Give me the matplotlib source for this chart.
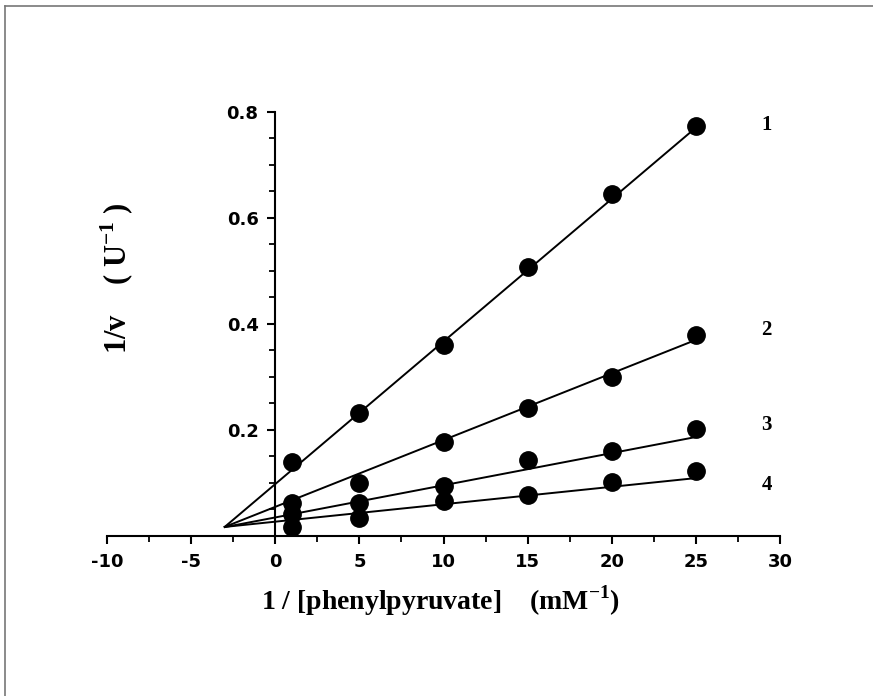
import numpy as np
import matplotlib
matplotlib.use('Agg')
import matplotlib.pyplot as plt
from matplotlib.lines import Line2D
from matplotlib.ticker import MultipleLocator

plt.rcParams['axes.unicode_minus'] = False
plt.rcParams['mathtext.fontset'] = 'custom'
plt.rcParams['mathtext.rm'] = 'Liberation Serif'
plt.rcParams['mathtext.bf'] = 'Liberation Serif:bold'

# data (1/[S] in mM^-1, 1/v in U^-1)
x_vals = [1, 5, 10, 15, 20, 25]
series1 = [0.140, 0.232, 0.360, 0.508, 0.645, 0.774]
series2 = [0.062, 0.100, 0.178, 0.242, 0.300, 0.380]
series3 = [0.042, 0.062, 0.094, 0.143, 0.160, 0.202]
series4 = [0.017, 0.034, 0.066, 0.077, 0.102, 0.123]
series_names = ['1', '2', '3', '4']

# fitted lines: y = intercept + slope * x, drawn from x = -3 to 25
intercepts = [0.098, 0.055, 0.035, 0.027]
slopes = [0.0269, 0.0126, 0.00607, 0.00329]
line_range = [-3.0, 25.0]

# label positions next to each line (data coords)
label_x = [28.9, 28.9, 28.9, 28.9]
label_y = [0.775, 0.389, 0.210, 0.096]

fig = plt.figure(figsize=(8.73, 6.96), dpi=100)
ax = fig.add_axes([0.1226, 0.2299, 0.7709, 0.6092])

all_series = [series1, series2, series3, series4]
xl = np.array(line_range)
for ys, b, m in zip(all_series, intercepts, slopes):
    ax.plot(xl, b + m * xl, color='black', linewidth=1.4, clip_on=False)
    ax.plot(x_vals, ys, 'o', color='black', markersize=12.5, clip_on=False)

for name, lx, ly in zip(series_names, label_x, label_y):
    ax.text(lx, ly, name, fontsize=15, family='Liberation Serif',
            fontweight='bold', ha='left', va='center')

ax.set_xlim(-10, 30)
ax.set_ylim(0, 0.8)
ax.spines['left'].set_position(('data', 0))
ax.spines['bottom'].set_position(('data', 0))
ax.spines['top'].set_visible(False)
ax.spines['right'].set_visible(False)
ax.spines['left'].set_linewidth(1.5)
ax.spines['bottom'].set_linewidth(1.5)

ax.set_xticks([-10, -5, 0, 5, 10, 15, 20, 25, 30])
ax.xaxis.set_minor_locator(MultipleLocator(2.5))
ax.set_yticks([0.2, 0.4, 0.6, 0.8])
ax.set_yticklabels(['0.2', '0.4', '0.6', '0.8'])
ax.yaxis.set_minor_locator(MultipleLocator(0.05))

ax.tick_params(axis='both', which='major', direction='out', length=6, width=1.5,
               labelsize=13, pad=6)
ax.tick_params(axis='both', which='minor', direction='out', length=4, width=1.3)
for lab in ax.get_xticklabels() + ax.get_yticklabels():
    lab.set_fontweight('bold')
    lab.set_family('DejaVu Sans')

fig.text(0.505, 0.137, r'1 / [phenylpyruvate]    (mM$^{\mathbf{-1}}$)',
         fontsize=20, family='Liberation Serif', fontweight='bold',
         ha='center', va='center')
fig.text(0.134, 0.60, r'1/v    ( U$^{\mathbf{-1}}$ )', fontsize=22,
         family='Liberation Serif', fontweight='bold', rotation=90,
         ha='center', va='center')

# scanned-page frame (top and left edges)
fig.add_artist(Line2D([0.006, 0.006], [0.0, 0.991], color='#777777', linewidth=1.2))
fig.add_artist(Line2D([0.006, 1.0], [0.991, 0.991], color='#777777', linewidth=1.2))

fig.savefig('out.png', dpi=100)
